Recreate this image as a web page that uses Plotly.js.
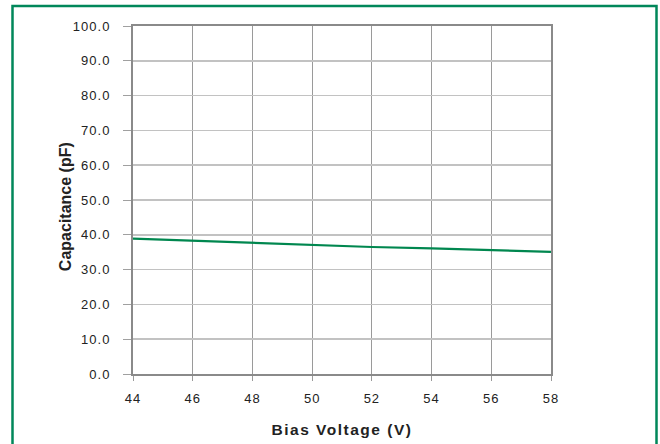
<!DOCTYPE html>
<html><head><meta charset="utf-8">
<script src="https://cdn.plot.ly/plotly-3.0.1.min.js"></script>
<style>
html,body{margin:0;padding:0;background:#fff}#c{width:660px;height:444px}
#c .xtick text, #c .ytick text{letter-spacing:1px}
#c .g-xtitle text{letter-spacing:1.5px}
</style>
</head><body><div id="c"></div>
<script>
const biasVoltage = [44, 46, 48, 50, 52, 54, 56, 58];
const capacitance = [38.9, 38.3, 37.6, 37.0, 36.5, 36.1, 35.7, 35.1];
const xTicks = [44, 46, 48, 50, 52, 54, 56, 58];
const yTicks = [0, 10, 20, 30, 40, 50, 60, 70, 80, 90, 100];

const L = 133, R = 551, T = 26, B = 374, W = 660, H = 444;
const pw = R - L, ph = B - T;
const px = v => (v - L) / pw, py = v => (B - v) / ph;

const data = [{
  x: biasVoltage, y: capacitance, type: 'scatter', mode: 'lines',
  line: {color: '#00874F', width: 2.2}, hoverinfo: 'skip'
}];
const font = {family: 'Liberation Sans, Arial, sans-serif', size: 13, color: '#222'};
const layout = {
  width: W, height: H,
  margin: {l: L, r: W - R, t: T, b: H - B, pad: 0},
  paper_bgcolor: '#fff', plot_bgcolor: '#fff',
  showlegend: false, font: font,
  xaxis: {
    range: [44, 58], tickvals: xTicks, ticktext: xTicks.map(String),
    showgrid: true, gridcolor: '#9a9a9a', gridwidth: 1,
    showline: true, linecolor: '#8a8a8a', linewidth: 2, mirror: true,
    ticks: 'outside', ticklen: 5, tickcolor: '#9a9a9a', tickwidth: 1,
    ticklabelstandoff: 6, zeroline: false,
    title: {text: '<b>Bias Voltage (V)</b>', font: {size: 15.5, color: '#222'}, standoff: 20}
  },
  yaxis: {
    range: [0, 100], tickvals: yTicks, ticktext: yTicks.map(v => v.toFixed(1)),
    showgrid: true, gridcolor: '#c2c2c2', gridwidth: 1.5,
    showline: true, linecolor: '#8a8a8a', linewidth: 2, mirror: true,
    ticks: 'outside', ticklen: 8, tickcolor: '#a0a0a0', tickwidth: 1,
    ticklabelstandoff: 10, zeroline: false,
    title: {text: '<b>Capacitance (pF)</b>&nbsp;&nbsp;&nbsp;', font: {size: 16, color: '#222'}, standoff: 2}
  },
  shapes: [{
    type: 'rect', xref: 'paper', yref: 'paper',
    x0: px(12.5), x1: px(656.5), y0: py(460), y1: py(6),
    line: {color: '#00875A', width: 2.5}, fillcolor: 'rgba(0,0,0,0)', layer: 'below'
  }]
};
Plotly.newPlot('c', data, layout, {staticPlot: true, displayModeBar: false});
</script></body></html>
